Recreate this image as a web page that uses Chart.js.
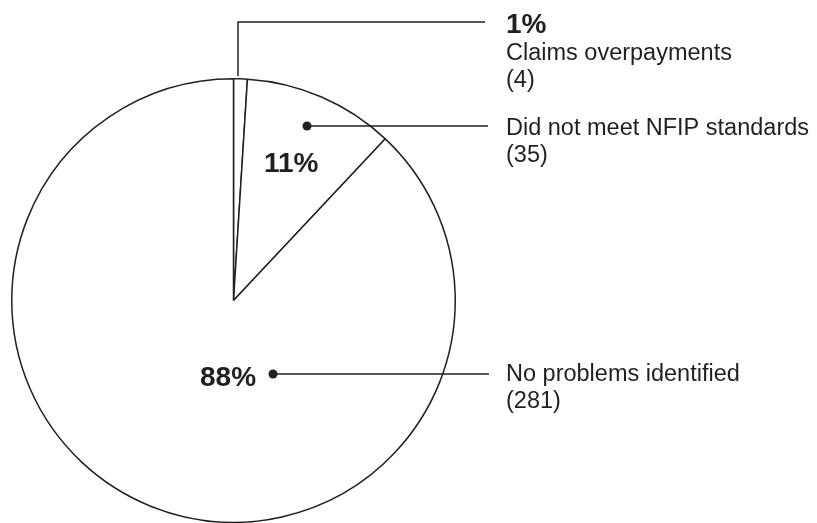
<!DOCTYPE html>
<html>
<head>
<meta charset="utf-8">
<script src="https://cdn.jsdelivr.net/npm/chart.js@4/dist/chart.umd.min.js"></script>
<style>
  html, body { margin: 0; padding: 0; background: #fff; }
  #wrap { width: 817px; height: 523px; }
</style>
</head>
<body>
<div id="wrap"><canvas id="pie"></canvas></div>
<script>
const categories = ["Claims overpayments", "Did not meet NFIP standards", "No problems identified"];
const percents = [1, 11, 88];
const counts = [4, 35, 281];

const ink = "#231f20";

// callout placement for each slice: dot/leader start, leader end, text origin
const callouts = [
  { elbow: true, from: [238, 76], corner: [238, 22], to: [485, 22], textX: 506, textY: 33 },
  { dot: [307, 126], to: [488, 126], textX: 506, textY: 135, pct: [264, 172] },
  { dot: [273, 374], to: [489, 374], textX: 506, textY: 381, pct: [200, 386] },
];

const calloutPlugin = {
  id: "callouts",
  afterDraw(chart) {
    const ctx = chart.ctx;
    ctx.save();
    ctx.strokeStyle = ink;
    ctx.fillStyle = ink;
    ctx.lineWidth = 1.5;
    ctx.textBaseline = "alphabetic";
    ctx.textAlign = "left";

    callouts.forEach((c, i) => {
      ctx.beginPath();
      if (c.elbow) {
        ctx.moveTo(c.from[0], c.from[1]);
        ctx.lineTo(c.corner[0], c.corner[1]);
        ctx.lineTo(c.to[0], c.to[1]);
      } else {
        ctx.moveTo(c.dot[0], c.dot[1]);
        ctx.lineTo(c.to[0], c.to[1]);
      }
      ctx.stroke();

      if (c.dot) {
        ctx.beginPath();
        ctx.arc(c.dot[0], c.dot[1], 4.5, 0, Math.PI * 2);
        ctx.fill();
      }

      let y = c.textY;
      ctx.font = "bold 28px 'Liberation Sans', Arial, sans-serif";
      if (c.elbow) {
        ctx.fillText(percents[i] + "%", c.textX, y);
        y += 27;
      } else {
        ctx.fillText(percents[i] + "%", c.pct[0], c.pct[1]);
      }
      ctx.font = "23.5px 'Liberation Sans', Arial, sans-serif";
      ctx.fillText(categories[i], c.textX, y);
      ctx.fillText("(" + counts[i] + ")", c.textX, y + 27);
    });
    ctx.restore();
  },
};

new Chart(document.getElementById("pie"), {
  type: "pie",
  data: {
    labels: categories,
    datasets: [{
      data: percents,
      backgroundColor: "#ffffff",
      borderColor: ink,
      borderWidth: 1.5,
    }],
  },
  options: {
    responsive: true,
    maintainAspectRatio: false,
    animation: false,
    layout: { padding: { left: 11, top: 78, right: 361, bottom: 0 } },
    plugins: {
      legend: { display: false },
      tooltip: { enabled: false },
    },
  },
  plugins: [calloutPlugin],
});
</script>
</body>
</html>
